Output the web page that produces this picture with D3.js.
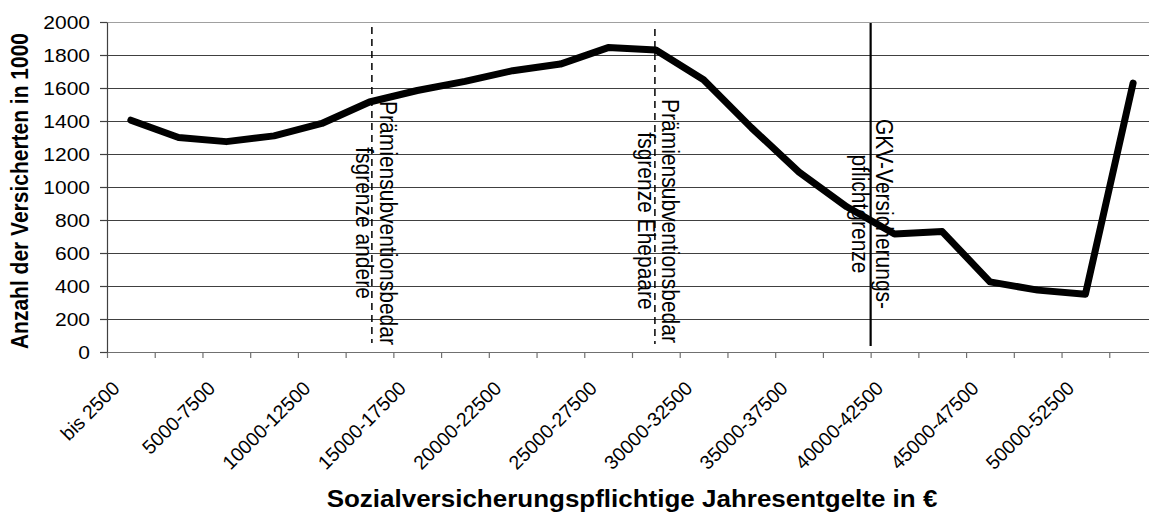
<!DOCTYPE html>
<html>
<head>
<meta charset="utf-8">
<script src="https://cdn.jsdelivr.net/npm/d3@7"></script>
<style>
  html, body { margin: 0; padding: 0; background: #fff; }
  svg { display: block; font-family: "Liberation Sans", Arial, sans-serif; }
</style>
</head>
<body>
<svg id="chart" width="1149" height="517"></svg>
<script>
// ---------- data ----------
const categories = [
  "bis 2500", "2500-5000", "5000-7500", "7500-10000", "10000-12500", "12500-15000",
  "15000-17500", "17500-20000", "20000-22500", "22500-25000", "25000-27500", "27500-30000",
  "30000-32500", "32500-35000", "35000-37500", "37500-40000", "40000-42500", "42500-45000",
  "45000-47500", "47500-50000", "50000-52500", "über 52500"
];
const insured = [
  1405, 1300, 1275, 1310, 1385, 1515, 1585, 1640, 1705, 1745, 1845,
  1830, 1650, 1360, 1090, 880, 715, 730, 425, 375, 350, 1630
];
const yTickValues = [0, 200, 400, 600, 800, 1000, 1200, 1400, 1600, 1800, 2000];
const markerPositions = [5.55, 11.48, 16];   // in category units
const markerLabels = [
  ["Prämiensubventionsbedar", "fsgrenze andere"],
  ["Prämiensubventionsbedar", "fsgrenze Ehepaare"],
  ["GKV-Versicherungs-", "pflichtgrenze"]
];
const yTitle = "Anzahl der Versicherten in 1000";
const xTitle = "Sozialversicherungspflichtige Jahresentgelte in €";

// ---------- layout ----------
const plot = { left: 107, right: 1157, top: 22, bottom: 352 };
const stretch = 1.13;
const markerStyle = [
  { dash: "7,5", width: 1.5, y1: 27, y2: 343, dx: 8, cy: 223 },
  { dash: "7,5", width: 1.5, y1: 29, y2: 344, dx: 7, cy: 221 },
  { dash: null,  width: 2.2, y1: 23, y2: 346, dx: 5, cy: 214 }
];

const svg = d3.select("#chart");
const x = d3.scaleLinear().domain([0, categories.length]).range([plot.left, plot.right]);
const y = d3.scaleLinear().domain([0, 2000]).range([plot.bottom, plot.top]);

// gridlines
svg.append("g").selectAll("line")
  .data(yTickValues.filter(v => v > 0))
  .join("line")
  .attr("x1", plot.left).attr("x2", plot.right)
  .attr("y1", d => y(d)).attr("y2", d => y(d))
  .attr("stroke", d => d === 2000 ? "#a0a0a0" : "#404040")
  .attr("stroke-width", 1)
  .attr("shape-rendering", "crispEdges");

// x axis (ticks at category boundaries)
const xAxis = svg.append("g")
  .attr("transform", `translate(0,${plot.bottom})`)
  .call(d3.axisBottom(x).tickValues(d3.range(0, categories.length + 1)).tickSize(6).tickSizeOuter(0).tickFormat(""));
xAxis.select(".domain").attr("stroke", "#707070").attr("stroke-width", 1.2);
xAxis.selectAll(".tick line").attr("stroke", "#707070").attr("stroke-width", 1.2);

// y axis
const yAxis = svg.append("g")
  .attr("transform", `translate(${plot.left},0)`)
  .call(d3.axisLeft(y).tickValues(yTickValues).tickSize(7).tickSizeOuter(0).tickFormat(""));
yAxis.select(".domain").attr("stroke", "#404040").attr("stroke-width", 1.2);
yAxis.selectAll(".tick line").attr("stroke", "#404040").attr("stroke-width", 1.2);

// y tick labels
svg.append("g").selectAll("text")
  .data(yTickValues)
  .join("text")
  .attr("transform", d => `translate(${plot.left - 17},${y(d)}) scale(${stretch},1)`)
  .attr("text-anchor", "end")
  .attr("dominant-baseline", "central")
  .attr("font-size", 18.6)
  .attr("fill", "#000")
  .text(d => d);

// x tick labels (every other category)
svg.append("g").selectAll("text")
  .data(categories.map((c, i) => ({ c, i })).filter(d => d.i % 2 === 0))
  .join("text")
  .attr("transform", d => `translate(${x(d.i + 0.5) - 10},389.5) rotate(-45)`)
  .attr("text-anchor", "end")
  .attr("font-size", 19.5)
  .attr("fill", "#000")
  .text(d => d.c);

// axis titles
svg.append("text")
  .attr("transform", `translate(28,191) scale(${stretch},1) rotate(-90)`)
  .attr("text-anchor", "middle")
  .attr("font-size", 21)
  .attr("font-weight", "bold")
  .text(yTitle);

svg.append("text")
  .attr("transform", `translate(${(plot.left + plot.right) / 2},506.5) scale(${stretch},1)`)
  .attr("text-anchor", "middle")
  .attr("font-size", 23)
  .attr("font-weight", "bold")
  .text(xTitle);

// marker lines
markerPositions.forEach((p, k) => {
  const st = markerStyle[k];
  const mx = x(p);
  svg.append("line")
    .attr("x1", mx).attr("x2", mx)
    .attr("y1", st.y1).attr("y2", st.y2)
    .attr("stroke", "#000")
    .attr("stroke-width", st.width)
    .attr("stroke-dasharray", st.dash);
});

// series line
const line = d3.line().x((d, i) => x(i + 0.5)).y(d => y(d));
svg.append("path")
  .datum(insured)
  .attr("d", line)
  .attr("fill", "none")
  .attr("stroke", "#000")
  .attr("stroke-width", 7)
  .attr("stroke-linejoin", "round")
  .attr("stroke-linecap", "round");

// marker labels (drawn on top, rotated)
markerPositions.forEach((p, k) => {
  const st = markerStyle[k];
  const base = x(p) + st.dx;
  markerLabels[k].forEach((txt, j) => {
    svg.append("text")
      .attr("transform", `translate(${base - j * 23.5},${st.cy}) scale(${stretch},1) rotate(90)`)
      .attr("text-anchor", "middle")
      .attr("font-size", 21)
      .attr("fill", "#000")
      .text(txt);
  });
});
</script>
</body>
</html>
